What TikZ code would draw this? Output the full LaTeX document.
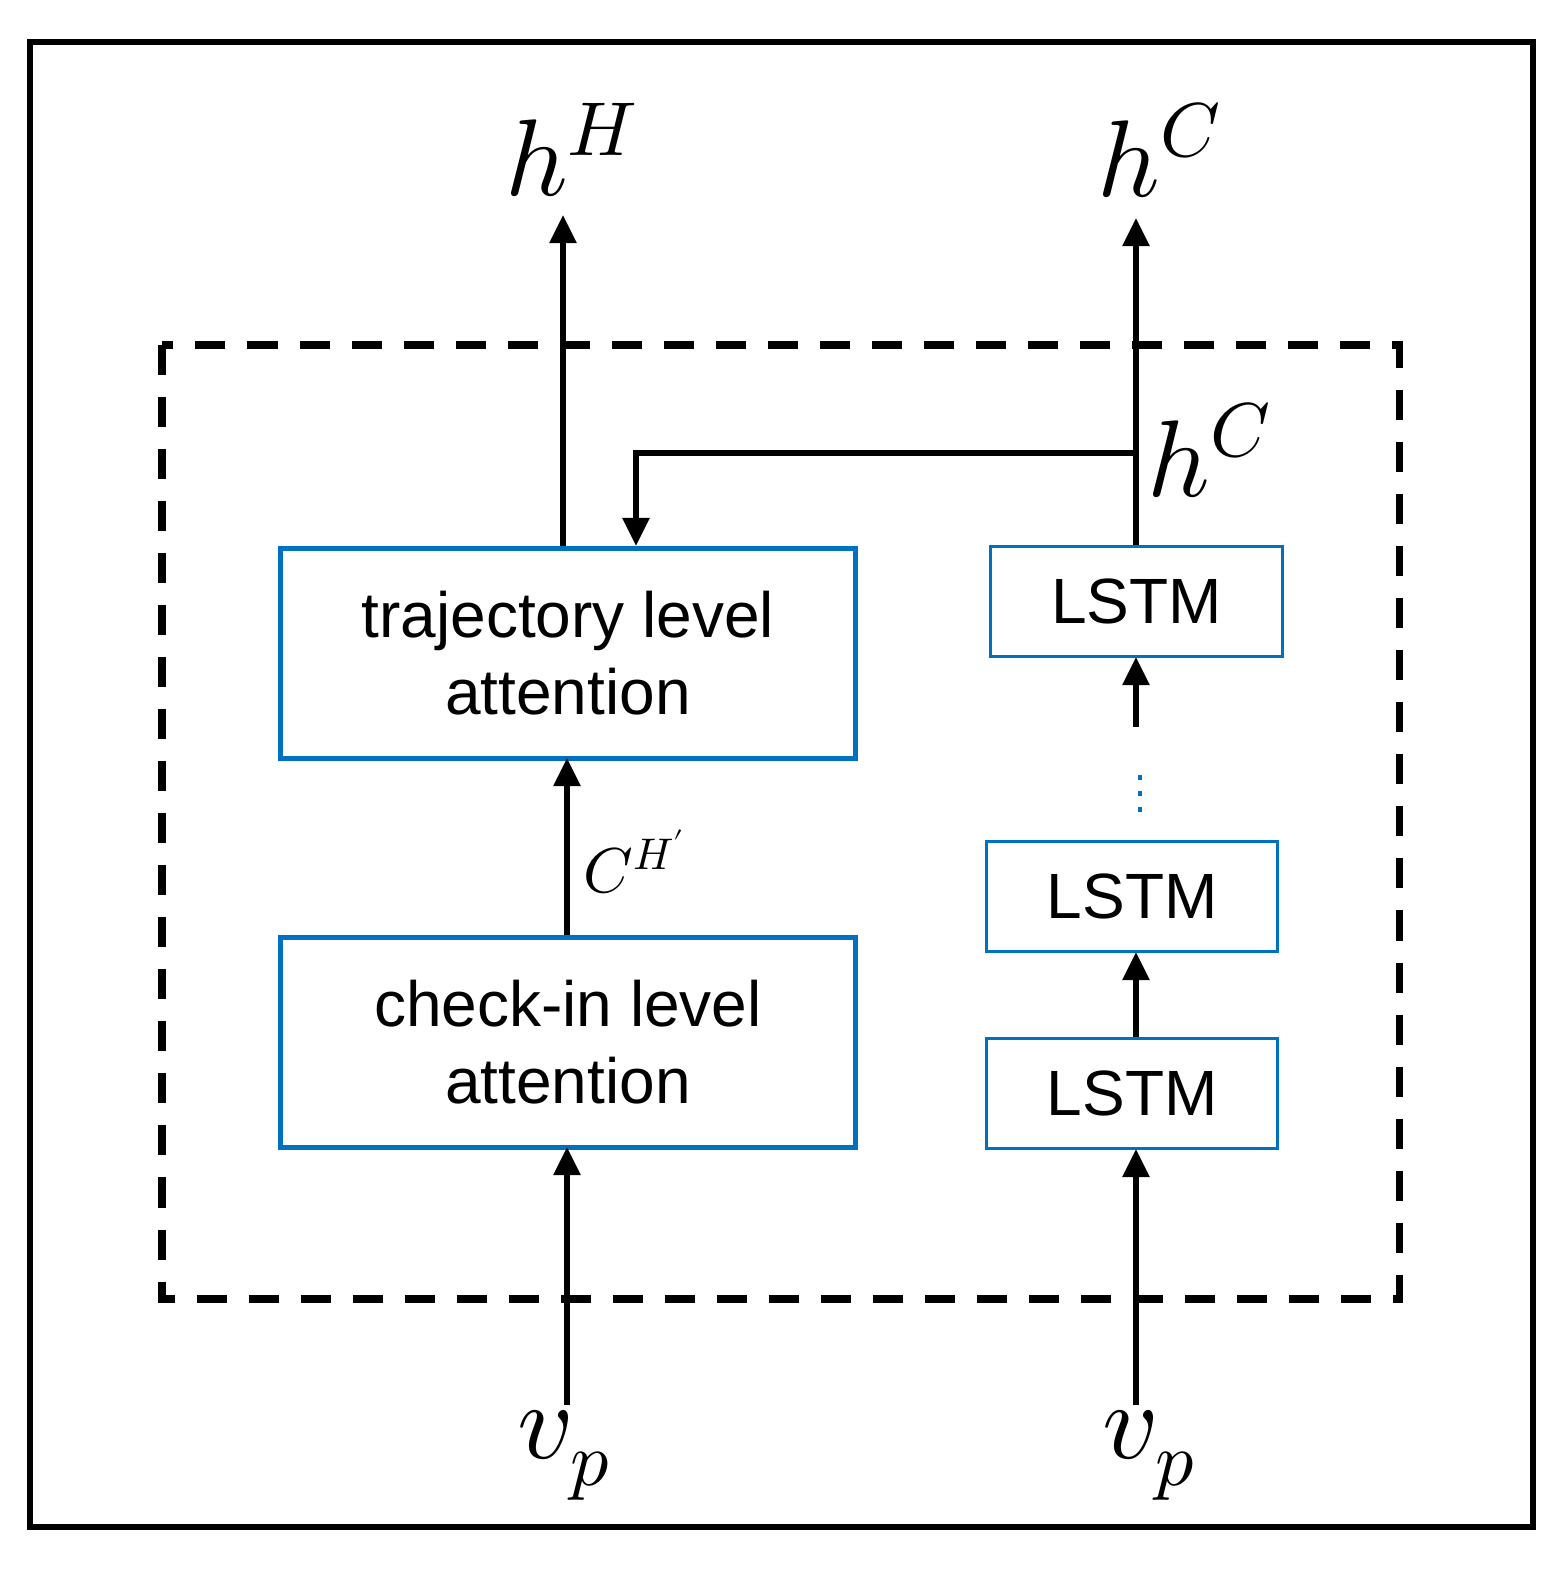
\documentclass[tikz,border=0pt]{standalone}
\usepackage{fontspec}
\setmainfont{Liberation Sans}
\usepackage{unicode-math}
\setmathfont{Latin Modern Math}
\usetikzlibrary{arrows.meta}
\definecolor{bl}{RGB}{0,112,192}
\begin{document}
\begin{tikzpicture}[x=0.01cm,y=-0.01cm,
  arr/.style={line width=1.6pt,-{Triangle[length=0.28cm,width=0.26cm]}},
  box/.style={draw=bl,line width=1.3pt,anchor=north west,inner sep=0},
  lab/.style={font=\fontsize{18.2}{22}\selectfont,align=center},
  big/.style={font=\fontsize{31}{36}\selectfont}]
\useasboundingbox (0,0) rectangle (1566,1571);
\draw[line width=1.6pt] (30,42) rectangle (1533,1527);
\draw[line width=2pt,dash pattern=on 0.3cm off 0.22cm] (162,345) rectangle (1399,1299);
\node[box,minimum width=5.75cm,minimum height=2.1cm] (traj) at (278,546) {};
\node[lab] at (traj.center) {trajectory level\\attention};
\node[box,minimum width=5.75cm,minimum height=2.1cm] (chk) at (278,935) {};
\node[lab] at (chk.center) {check-in level\\attention};
\node[box,line width=0.9pt,minimum width=2.92cm,minimum height=1.1cm,lab] (l1) at (989,545) {};
\node[lab] at (l1.center) {LSTM};
\node[box,line width=0.9pt,minimum width=2.91cm,minimum height=1.1cm] (l2) at (985,840) {};
\node[lab] at (l2.center) {LSTM};
\node[box,line width=0.9pt,minimum width=2.91cm,minimum height=1.1cm] (l3) at (985,1037) {};
\node[lab] at (l3.center) {LSTM};
\node[big] (hH) at (572,150) {$h^H$};
\node[big] (hC) at (1160,150) {$h^C$};
\node[big] (hC2) at (1210,450) {$h^C$};
\node[font=\fontsize{18}{20}\selectfont] (ch) at (635,862) {$C^{H'}$};
\node[big] (v1) at (565,1455) {$v_p$};
\node[big] (v2) at (1150,1455) {$v_p$};
\coordinate (t1) at (563,215);
\coordinate (t2) at (1136,218);
\coordinate (b1) at (567,1405);
\coordinate (b2) at (1136,1405);
\coordinate (br) at (1136,453);
\coordinate (da) at (1136,727);
\draw[arr] (563,546) -- (t1);
\draw[arr] (1136,545) -- (t2);
\draw[arr] (br) -- (636,453) -- (636,546);
\draw[arr] (567,935) -- (567,758);
\draw[arr] (b1) -- (567,1147);
\draw[arr] (b2) -- (1136,1149);
\draw[arr] (1136,1037) -- (1136,952);
\draw[arr] (da) -- (1136,657);
\draw[bl,line width=1pt,dash pattern=on 1.5pt off 3pt] (1140,775) -- (1140,812);
\end{tikzpicture}
\end{document}
